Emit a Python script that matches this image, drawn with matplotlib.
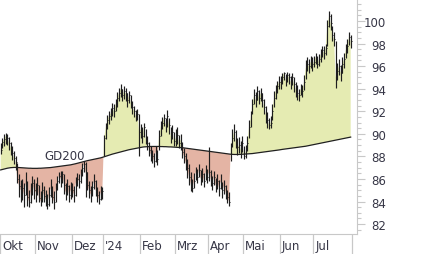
import numpy as np
import pandas as pd
import matplotlib
matplotlib.use("Agg")
import matplotlib.pyplot as plt
import matplotlib.transforms as mtransforms

# trading days Oct 2023 - Jul 2024 (exchange holidays left out)
holidays = ["2023-10-03", "2023-12-25", "2023-12-26", "2024-01-01",
            "2024-03-29", "2024-04-01", "2024-05-01"]
days = pd.bdate_range("2023-10-02", "2024-07-31", freq="C", holidays=holidays)

month_labels = ["Okt", "Nov", "Dez", "'24", "Feb", "Mrz", "Apr", "Mai", "Jun", "Jul"]

# daily close / high / low (one line per month)
close = [
    88.6, 89.3, 89.5, 89.8, 89.6, 89.2, 88.8, 88.3, 87.9, 87.5, 86.0, 85.4, 85.0, 85.2, 84.6, 85.6, 84.4, 84.0, 84.8, 85.6, 85.0,
    84.8, 85.5, 84.3, 84.0, 85.0, 84.5, 84.2, 83.8, 84.6, 85.2, 84.4, 84.0, 85.0, 85.8, 86.3, 86.0, 86.4, 85.5, 84.8, 85.4, 84.6, 85.0,
    85.0, 84.6, 85.6, 86.0, 85.8, 86.4, 87.0, 87.3, 86.6, 85.5, 85.0, 84.6, 85.3, 85.8, 85.0, 84.6, 84.2, 84.8, 84.9,
    89.6, 90.5, 91.2, 91.6, 91.8, 92.3, 92.0, 92.6, 93.2, 93.6, 94.0, 93.4, 93.8, 93.6, 93.0, 93.4, 92.8, 92.4, 92.0, 91.6, 91.8, 90.2,
    90.4, 89.8, 90.6, 89.6, 89.2, 88.6, 88.2, 88.0, 87.6, 88.4, 87.8, 89.8, 90.6, 91.0, 91.4, 90.8, 91.6, 90.8, 89.8, 90.2, 89.4,
    89.6, 89.9, 89.2, 89.5, 88.4, 88.0, 87.5, 87.0, 86.2, 85.6, 85.2, 85.8, 86.6, 86.2, 86.8, 86.0, 86.4, 85.8, 86.6, 86.2,
    86.6, 86.0, 85.6, 86.2, 85.4, 85.8, 85.2, 85.8, 85.0, 85.4, 84.8, 84.4, 84.0, 88.6, 89.6, 90.2, 89.4, 88.8, 89.0, 88.6, 89.2,
    88.0, 88.4, 89.2, 90.6, 91.4, 92.6, 93.4, 93.0, 93.8, 93.2, 93.6, 93.0, 92.4, 91.8, 91.2, 90.8, 91.0, 92.0, 93.2, 93.8, 94.2, 94.6,
    94.6, 95.0, 95.4, 94.8, 95.2, 95.0, 94.6, 95.0, 94.4, 94.0, 93.6, 93.4, 94.0, 93.8, 94.6, 95.8, 96.2, 96.0, 96.4, 96.2,
    96.4, 96.8, 96.2, 96.6, 97.0, 97.4, 97.2, 97.6, 99.6, 100.4, 99.8, 98.8, 98.4, 95.0, 95.6, 96.0, 95.4, 96.2, 96.6, 97.4, 97.8, 98.6, 98.2,
]
high = [
    89.2, 89.6, 90.0, 90.1, 90.0, 89.7, 89.3, 88.9, 88.5, 88.0, 87.4, 86.4, 85.9, 86.0, 85.6, 86.6, 85.8, 85.0, 85.6, 86.3, 86.0,
    85.6, 86.2, 85.5, 84.9, 85.7, 85.4, 85.0, 84.7, 85.3, 86.0, 85.4, 84.9, 85.6, 86.3, 86.6, 86.7, 86.7, 86.4, 85.6, 86.0, 85.5, 85.7,
    85.6, 85.4, 86.2, 86.5, 86.4, 86.9, 87.4, 87.6, 87.5, 86.6, 85.8, 85.4, 85.8, 86.4, 85.9, 85.3, 84.9, 85.4, 85.3,
    89.9, 91.0, 91.7, 92.0, 92.3, 92.7, 92.6, 93.1, 93.7, 94.1, 94.4, 94.0, 94.2, 94.1, 93.6, 93.8, 93.4, 92.9, 92.5, 92.1, 92.2, 91.8,
    90.9, 90.6, 91.0, 90.4, 89.8, 89.3, 88.9, 88.6, 88.3, 88.9, 88.6, 90.3, 91.1, 91.5, 91.8, 91.4, 92.1, 91.4, 90.6, 90.8, 90.2,
    90.4, 90.6, 89.9, 90.0, 89.3, 88.7, 88.3, 87.8, 87.3, 86.6, 86.0, 86.5, 87.1, 86.9, 87.3, 86.8, 87.0, 86.5, 87.2, 86.9,
    88.8, 86.8, 86.3, 86.7, 86.1, 86.4, 85.9, 86.4, 85.7, 85.9, 85.5, 85.0, 84.8, 89.2, 90.4, 90.9, 90.3, 89.6, 89.7, 89.4, 89.8,
    88.9, 89.0, 89.8, 91.2, 92.0, 93.1, 94.0, 93.7, 94.2, 93.9, 94.1, 93.6, 93.1, 92.5, 91.9, 91.4, 91.6, 92.6, 93.8, 94.3, 94.7, 95.1,
    95.1, 95.4, 95.5, 95.3, 95.5, 95.4, 95.1, 95.4, 95.0, 94.6, 94.3, 94.0, 94.4, 94.3, 95.2, 96.5, 96.8, 96.6, 96.9, 96.8,
    96.9, 97.2, 96.9, 97.1, 97.5, 97.8, 97.8, 98.0, 100.1, 100.9, 100.6, 99.6, 99.0, 98.2, 96.3, 96.6, 96.1, 96.8, 97.2, 98.0, 98.4, 99.0, 98.8,
]
low = [
    88.2, 88.7, 88.9, 89.1, 89.0, 88.6, 88.1, 87.7, 87.3, 86.8, 85.6, 84.4, 84.0, 84.1, 83.5, 84.6, 83.6, 83.5, 83.9, 84.6, 84.2,
    84.0, 84.6, 84.0, 83.6, 84.0, 84.0, 83.6, 83.3, 83.6, 84.4, 83.9, 83.3, 84.0, 85.0, 85.6, 85.3, 85.6, 84.7, 84.1, 84.6, 84.0, 84.2,
    84.4, 84.0, 84.5, 85.4, 85.2, 85.6, 86.3, 86.6, 84.4, 85.0, 84.3, 84.0, 84.5, 85.1, 84.5, 84.0, 83.8, 84.1, 84.2,
    88.0, 89.5, 90.4, 90.9, 91.2, 91.6, 91.5, 92.0, 92.4, 92.9, 93.3, 92.9, 93.1, 92.9, 92.4, 92.7, 92.3, 91.8, 91.5, 91.1, 91.2, 88.0,
    89.6, 89.2, 89.7, 89.1, 88.6, 88.0, 87.6, 87.4, 87.1, 87.5, 87.2, 88.6, 89.8, 90.4, 90.7, 90.2, 90.6, 90.0, 89.2, 89.5, 88.9,
    88.9, 89.1, 88.7, 88.6, 87.9, 87.4, 86.8, 86.1, 85.5, 84.9, 84.8, 85.2, 85.9, 85.6, 86.2, 85.5, 85.7, 85.3, 85.9, 85.6,
    85.8, 85.4, 85.0, 85.5, 84.8, 85.1, 84.5, 85.1, 84.3, 84.7, 84.2, 83.9, 83.6, 87.6, 88.8, 89.4, 88.7, 88.1, 88.3, 87.9, 88.4,
    87.8, 87.9, 88.5, 89.6, 90.6, 91.8, 92.6, 92.4, 93.0, 92.6, 92.9, 92.4, 91.8, 91.0, 90.5, 90.4, 90.5, 91.2, 92.4, 93.1, 93.6, 94.0,
    94.0, 94.4, 94.8, 94.2, 94.6, 94.4, 94.0, 94.3, 93.7, 93.3, 93.0, 92.9, 93.4, 93.3, 93.9, 94.9, 95.6, 95.4, 95.8, 95.6,
    95.9, 96.2, 95.8, 96.0, 96.4, 96.8, 96.6, 97.0, 97.8, 99.5, 99.2, 98.2, 97.8, 94.1, 94.8, 95.2, 94.7, 95.4, 95.8, 96.7, 97.2, 97.9, 97.6,
]
# 200-day average (GD200)
gd200 = [
    86.80, 86.84, 86.88, 86.92, 86.95, 86.98, 87.00, 87.01, 87.02, 87.02, 87.02, 87.01, 87.00, 86.99, 86.98, 86.97, 86.96, 86.95, 86.95, 86.94, 86.94,
    86.94, 86.94, 86.95, 86.95, 86.96, 86.97, 86.98, 86.99, 87.00, 87.01, 87.03, 87.05, 87.07, 87.09, 87.11, 87.13, 87.15, 87.17, 87.19, 87.21, 87.23, 87.25,
    87.28, 87.31, 87.35, 87.39, 87.43, 87.47, 87.51, 87.55, 87.59, 87.62, 87.65, 87.68, 87.71, 87.74, 87.77, 87.80, 87.83, 87.87, 87.91,
    87.96, 88.01, 88.06, 88.11, 88.16, 88.20, 88.24, 88.28, 88.32, 88.36, 88.40, 88.44, 88.48, 88.52, 88.56, 88.59, 88.62, 88.65, 88.68, 88.71, 88.74, 88.77,
    88.80, 88.82, 88.84, 88.85, 88.86, 88.87, 88.88, 88.88, 88.88, 88.88, 88.88, 88.88, 88.87, 88.87, 88.86, 88.86, 88.85, 88.84, 88.84, 88.83, 88.82,
    88.81, 88.80, 88.79, 88.78, 88.77, 88.75, 88.73, 88.71, 88.69, 88.67, 88.65, 88.63, 88.61, 88.59, 88.57, 88.55, 88.53, 88.51, 88.49, 88.47,
    88.45, 88.43, 88.41, 88.39, 88.37, 88.35, 88.33, 88.31, 88.29, 88.27, 88.25, 88.23, 88.21, 88.19, 88.18, 88.17, 88.17, 88.17, 88.17, 88.18, 88.19,
    88.20, 88.21, 88.22, 88.23, 88.24, 88.25, 88.27, 88.29, 88.31, 88.33, 88.35, 88.37, 88.39, 88.41, 88.43, 88.45, 88.47, 88.49, 88.51, 88.53, 88.55, 88.57,
    88.60, 88.62, 88.64, 88.66, 88.68, 88.70, 88.72, 88.74, 88.76, 88.78, 88.80, 88.82, 88.84, 88.86, 88.88, 88.90, 88.93, 88.96, 88.99, 89.02,
    89.05, 89.08, 89.11, 89.14, 89.17, 89.20, 89.23, 89.26, 89.29, 89.32, 89.35, 89.38, 89.41, 89.44, 89.47, 89.50, 89.53, 89.56, 89.59, 89.62, 89.65, 89.68, 89.71,
]

df = pd.DataFrame({"close": close, "high": high, "low": low, "gd200": gd200}, index=days)
x = np.arange(len(df))

GREEN = "#e5ebb2"
RED = "#e4b4a4"
GRID = "#c8c8c8"
TXT = "#363646"

fig = plt.figure(figsize=(4.26, 2.55), dpi=100)
ax = fig.add_axes([0, 20 / 255, 357 / 426, 235 / 255])

c = df["close"].values
m = df["gd200"].values
ax.fill_between(x, c, m, where=c >= m, interpolate=True, color=GREEN, lw=0)
ax.fill_between(x, c, m, where=c < m, interpolate=True, color=RED, lw=0)
ax.plot(x, m, color="#202020", lw=0.9)

# bars: high-low line with close tick
ax.vlines(x, df["low"], df["high"], color="#1e1e1e", lw=0.85)
ax.hlines(c, x, x + 0.5, color="#1e1e1e", lw=0.7)

ax.text(26, 88.05, "GD200", ha="left", va="center", fontsize=8.5, color=TXT)

ax.set_xlim(-0.4, 213.8)
ax.set_ylim(81.12, 101.95)

# price axis on the right
ax.yaxis.tick_right()
ax.set_yticks(np.arange(82, 101, 2))
ax.set_yticks(np.arange(81.5, 101.6, 0.5), minor=True)
ax.tick_params(axis="y", which="major", direction="out", length=6, width=0.8,
               color=GRID, pad=15, labelsize=8.5, labelcolor=TXT)
ax.tick_params(axis="y", which="minor", direction="out", length=3, width=0.8, color=GRID)
for lab in ax.get_yticklabels():
    lab.set_ha("right")

for s in ["top", "left"]:
    ax.spines[s].set_visible(False)
for s in ["right", "bottom"]:
    ax.spines[s].set_color(GRID)
ax.set_xticks([])

# month separators and labels below the plot
month_start = [0] + [i for i in range(1, len(days)) if days[i].month != days[i - 1].month]
seps = [i - 0.5 for i in month_start] + [len(days) - 0.5]
trans = mtransforms.blended_transform_factory(ax.transData, ax.transAxes)
ax.vlines(seps, -20 / 235, 0, transform=trans, color=GRID, lw=0.9, clip_on=False)
for pos, name in zip(seps, month_labels):
    ax.text(pos + 1.3, -12 / 235, name, transform=trans, ha="left", va="center",
            fontsize=8.5, color=TXT, clip_on=False)

fig.savefig("out.png", dpi=100)
